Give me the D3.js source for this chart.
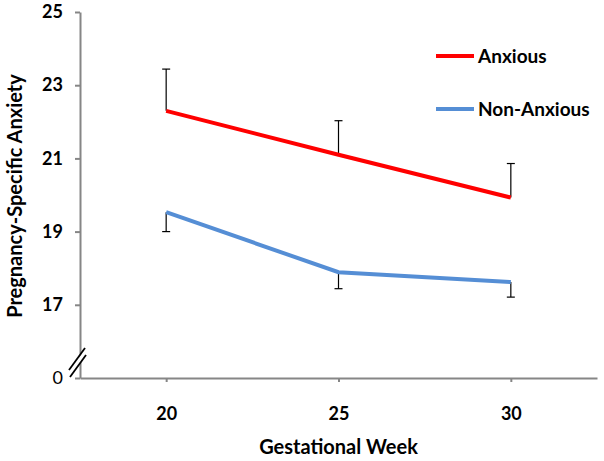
<!DOCTYPE html>
<html>
<head>
<meta charset="utf-8">
<script src="https://cdn.jsdelivr.net/npm/d3@7"></script>
<style>
  body { margin: 0; background: #fff; }
  text { font-family: Lato, "Open Sans", sans-serif; }
</style>
</head>
<body>
<div id="chart"></div>
<script>
const weeks = [20, 25, 30];
const anxious = [22.3, 21.1, 19.93];
const anxiousErr = [1.14, 0.93, 0.93];
const nonAnxious = [19.53, 17.89, 17.62];
const nonAnxiousErr = [0.53, 0.45, 0.41];
const yTicks = [15, 17, 19, 21, 23, 25];
const seriesNames = ["Anxious", "Non-Anxious"];
const colors = ["#ff0000", "#558ed5"];

const margin = { top: 12, right: 7, bottom: 83, left: 80 };
const width = 604 - margin.left - margin.right;
const height = 461 - margin.top - margin.bottom;

const svg = d3
  .select("#chart")
  .append("svg")
  .attr("width", width + margin.left + margin.right)
  .attr("height", height + margin.top + margin.bottom)
  .append("g")
  .attr("transform", `translate(${margin.left},${margin.top})`);

const x = d3.scalePoint().domain(weeks).range([0, width]).padding(0.5);
// 15 stands in for the broken-off 0 at the bottom of the axis
const y = d3.scaleLinear().domain([15, 25]).range([height, 0]);

const series = [
  { name: seriesNames[0], color: colors[0], values: anxious, err: anxiousErr, dir: 1 },
  { name: seriesNames[1], color: colors[1], values: nonAnxious, err: nonAnxiousErr, dir: -1 },
];

// axes
const yAxis = svg
  .append("g")
  .call(d3.axisLeft(y).tickValues(yTicks).tickSize(5).tickSizeOuter(0).tickPadding(12)
    .tickFormat((d) => (d === 15 ? "0" : d)));
yAxis.selectAll("path, line").attr("stroke", "#868686").attr("stroke-width", 2);
yAxis.selectAll("text")
  .style("font-size", "18px")
  .style("font-weight", (d) => (d === 15 ? "normal" : "bold"))
  .attr("fill", "#000");

const xAxis = svg
  .append("g")
  .attr("transform", `translate(0,${height})`)
  .call(d3.axisBottom(x).tickSize(4).tickSizeOuter(0).tickPadding(25));
xAxis.selectAll("path, line").attr("stroke", "#868686").attr("stroke-width", 2);
xAxis.selectAll("text").style("font-size", "18px").style("font-weight", "bold").attr("fill", "#000");

// axis break marks
const by = y(15) - 18;
const brk = svg.append("g").attr("transform", `translate(-2,${by})`);
brk.append("polygon").attr("points", "-8,10 8,-12 8,-5 -8,17").attr("fill", "#fff");
brk.append("line").attr("x1", -9).attr("y1", 10).attr("x2", 7).attr("y2", -12)
  .attr("stroke", "#000").attr("stroke-width", 1.8);
brk.append("line").attr("x1", -8).attr("y1", 17).attr("x2", 8).attr("y2", -5)
  .attr("stroke", "#000").attr("stroke-width", 1.8);

// error bars
series.forEach((s) => {
  const g = svg.append("g");
  weeks.forEach((w, i) => {
    const y0 = y(s.values[i]);
    const y1 = y(s.values[i] + s.dir * s.err[i]);
    g.append("line").attr("x1", x(w)).attr("x2", x(w)).attr("y1", y0).attr("y2", y1)
      .attr("stroke", "#000").attr("stroke-width", 1.2);
    g.append("line").attr("x1", x(w) - 4).attr("x2", x(w) + 4).attr("y1", y1).attr("y2", y1)
      .attr("stroke", "#000").attr("stroke-width", 1.2);
  });
});

// lines
const line = d3.line().x((d) => x(d[0])).y((d) => y(d[1]));
series.forEach((s) => {
  svg.append("path")
    .datum(weeks.map((w, i) => [w, s.values[i]]))
    .attr("fill", "none")
    .attr("stroke", s.color)
    .attr("stroke-width", 4)
    .attr("d", line);
});

// legend
const legend = svg.append("g").attr("transform", `translate(${356},${44})`);
series.forEach((s, i) => {
  const g = legend.append("g").attr("transform", `translate(0,${i * 53})`);
  g.append("line").attr("x1", 0).attr("x2", 38).attr("y1", 0).attr("y2", 0)
    .attr("stroke", s.color).attr("stroke-width", 4);
  g.append("text").attr("x", 42).attr("y", 0).attr("dy", "0.35em")
    .style("font-size", "19px").style("font-weight", "bold").text(s.name);
});

// axis titles
svg.append("text")
  .attr("x", x(25))
  .attr("y", height + 76)
  .style("text-anchor", "middle")
  .style("font-size", "20px")
  .style("font-weight", "bold")
  .text("Gestational Week");

svg.append("text")
  .attr("transform", "rotate(-90)")
  .attr("x", -184)
  .attr("y", -58)
  .style("text-anchor", "middle")
  .style("font-size", "20px")
  .style("font-weight", "bold")
  .text("Pregnancy-Specific Anxiety");
</script>
</body>
</html>
